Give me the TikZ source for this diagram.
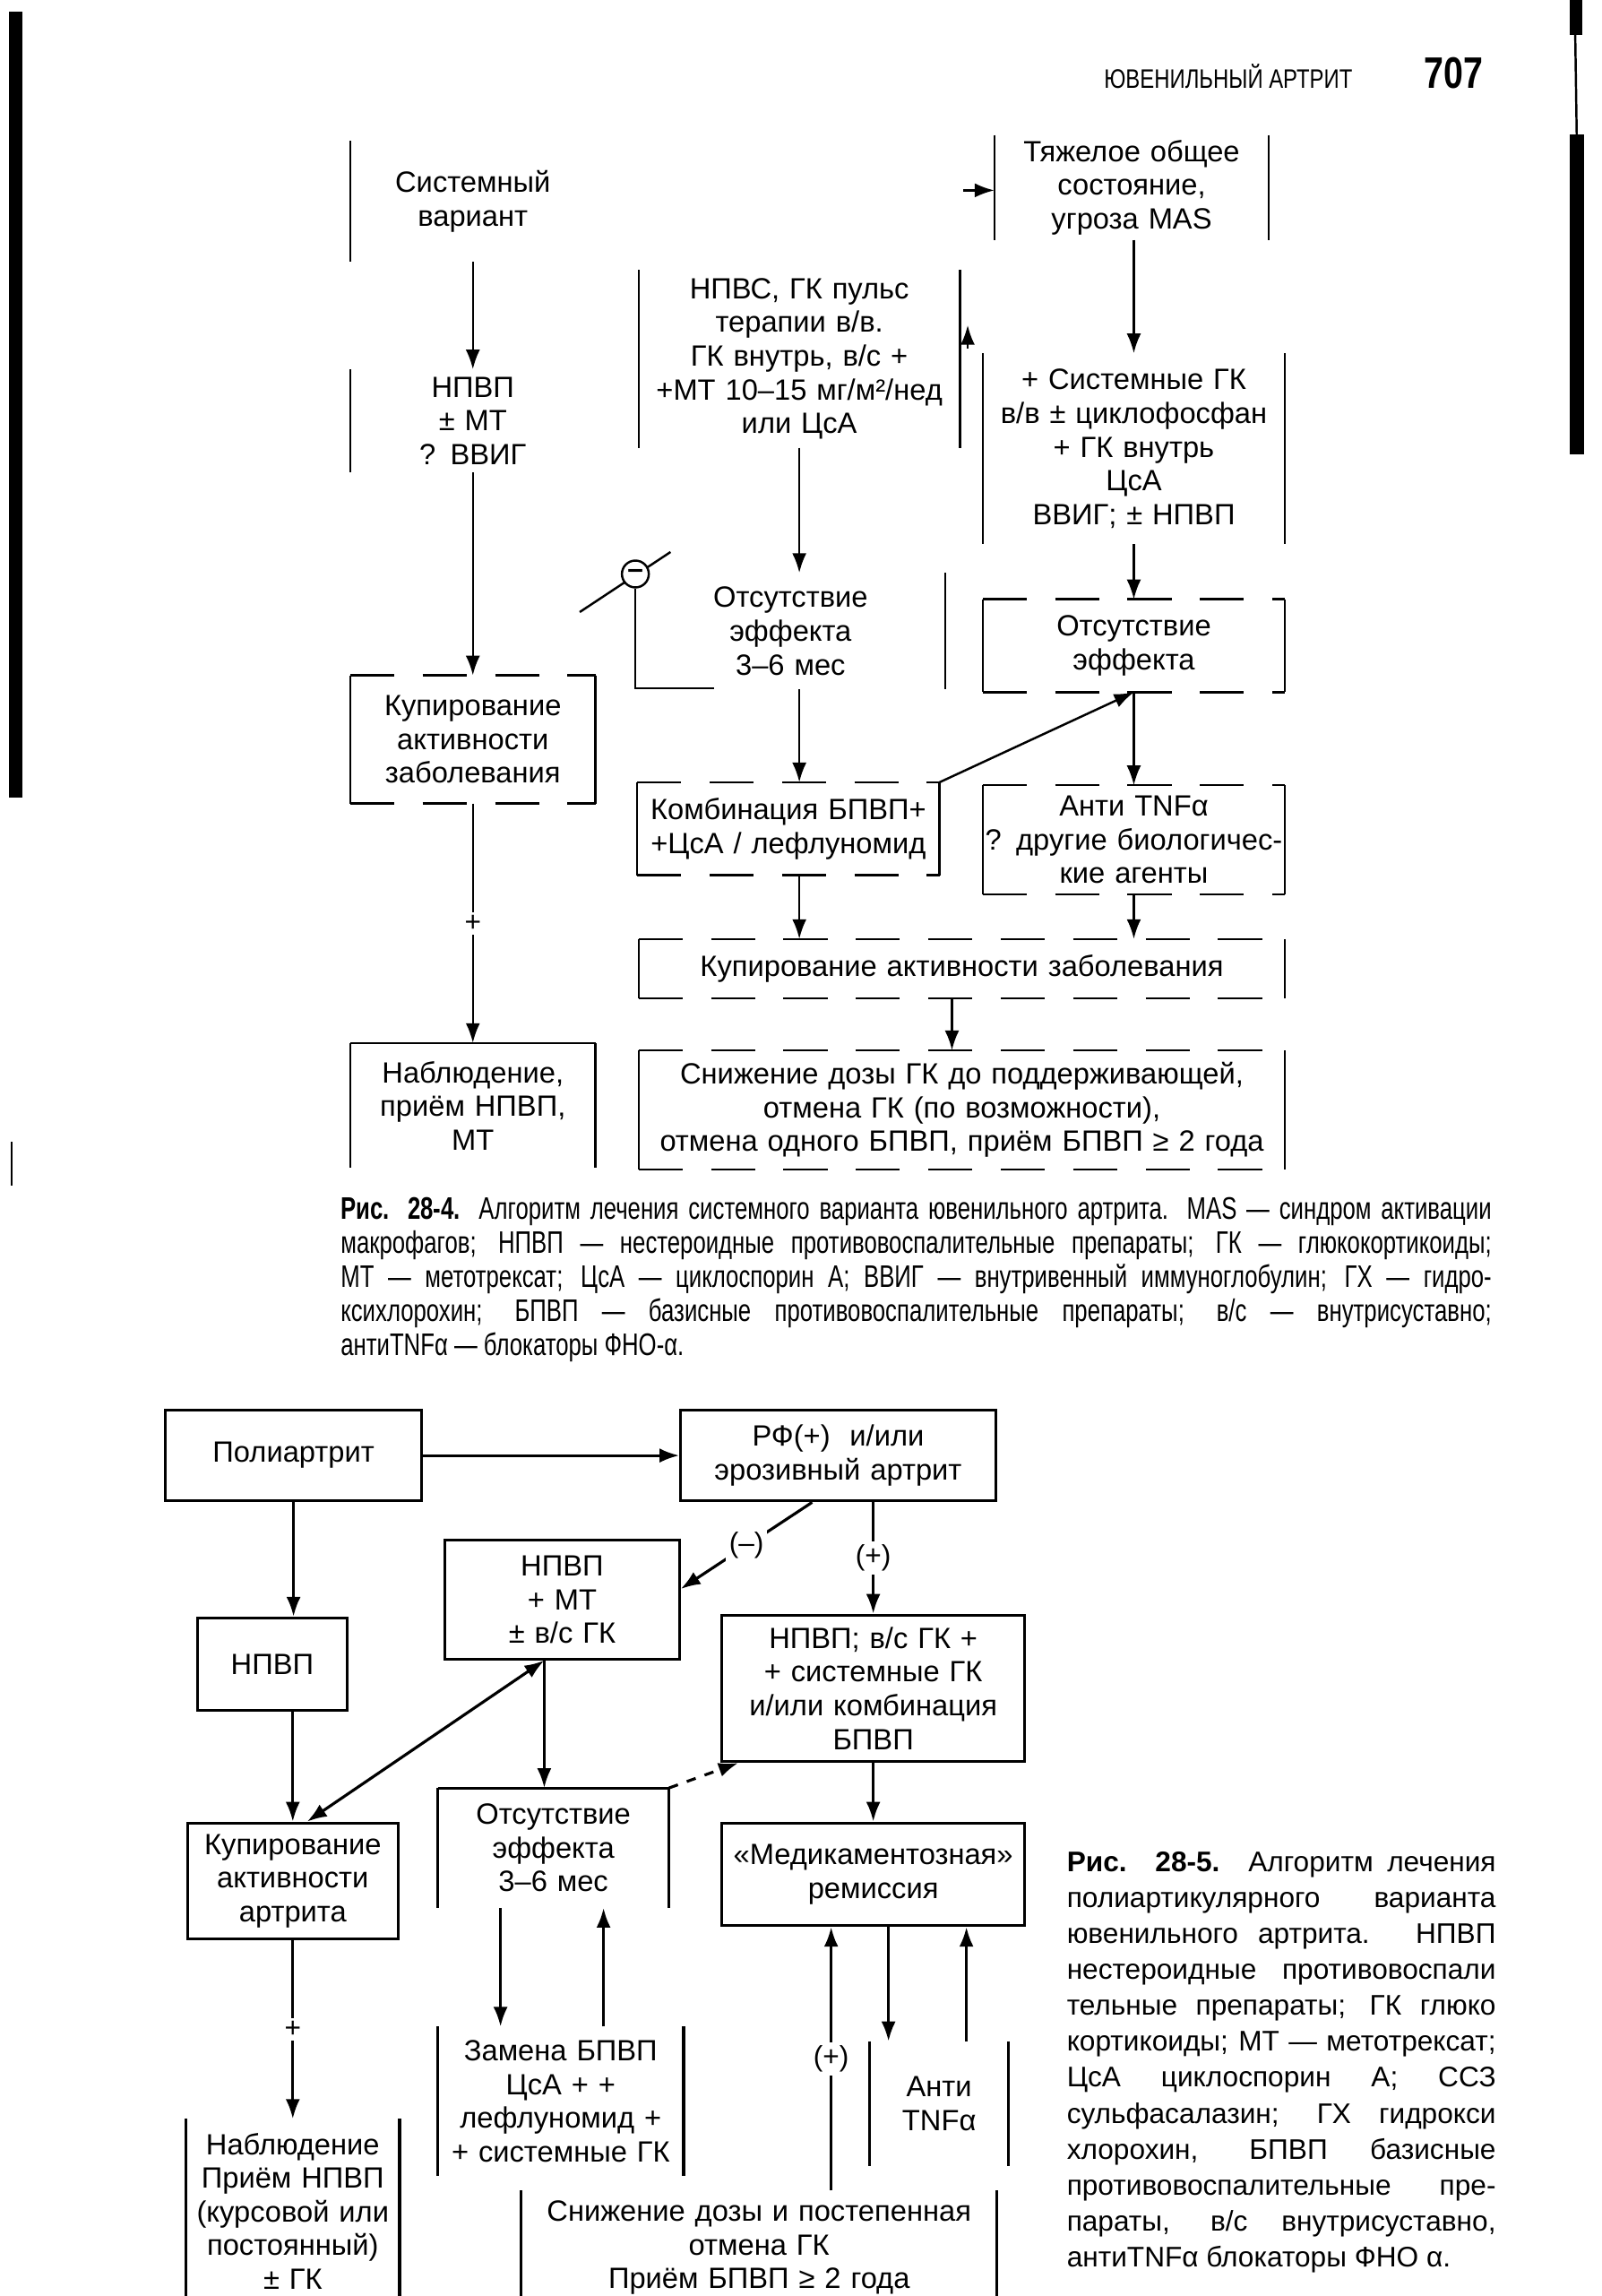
\documentclass[tikz,border=0pt]{standalone}
\usepackage{fontspec}
\setmainfont{Liberation Sans}
\newfontfamily\narrowfont[FakeStretch=0.8]{Liberation Sans}
\newfontfamily\capfont[FakeStretch=0.74]{Liberation Sans}
\usetikzlibrary{arrows.meta}

\begin{document}
\begin{tikzpicture}[x=0.016344cm,y=-0.016344cm,line width=0.7pt,
  every node/.style={font=\fontsize{9.3}{10.7}\selectfont},
  main box/.style={align=center,inner sep=0pt},
  small label/.style={fill=white,inner sep=1pt,font=\fontsize{9}{10}\selectfont},
  broken/.style={dash pattern=on 14pt off 9pt},
  >={Latex[length=2.2mm,width=1.6mm]}]
\fill[white] (0,0) rectangle (1094,1568);
\useasboundingbox (0,0) rectangle (1094,1568);

% edges of the scanned page
\fill (6,8) rectangle (15,545);
\draw (8,780) -- (8,810);
\fill (1072,0) rectangle (1081,24);
\draw (1076,24) -- (1077,92);
\fill (1072,92) rectangle (1082,310);

% running head
\node (runhead) at (839,52) {\narrowfont\fontsize{8.5}{10}\selectfont ЮВЕНИЛЬНЫЙ АРТРИТ};
\node (pagenum) at (993,50) {\narrowfont\bfseries\fontsize{14}{14}\selectfont 707};

% ---------- Fig. 28-4 ----------
\node[main box,text width=2.713cm,minimum height=1.324cm] (sys) at (323,137.5) {Системный\\вариант};
\node[main box,text width=2.713cm,minimum height=1.128cm] (npvp1) at (323,287.5) {НПВП\\± МТ\\? ВВИГ};
\node[main box,text width=2.713cm,minimum height=1.406cm] (kup1) at (323,505) {Купирование\\активности\\заболевания};
\node[main box,text width=2.713cm,minimum height=1.373cm] (nabl1) at (323,755) {Наблюдение,\\приём НПВП,\\МТ};
\node[main box,text width=3.563cm,minimum height=1.961cm] (pulse) at (546,245) {НПВС, ГК пульс\\терапии в/в.\\ГК внутрь, в/с +\\+МТ 10–15 мг/м²/нед\\или ЦсА};
\node[main box,text width=3.432cm,minimum height=1.275cm] (noeff1) at (540,431) {Отсутствие\\эффекта\\3–6 мес};
\node[main box,text width=3.35cm,minimum height=1.013cm] (comb) at (538.5,566) {Комбинация БПВП+\\+ЦсА / лефлуномид};
\node[main box,text width=7.191cm,minimum height=0.637cm] (kup2) at (657,661.5) {Купирование активности заболевания};
\node[main box,text width=7.191cm,minimum height=1.307cm] (dose1) at (657,758) {Снижение дозы ГК до поддерживающей,\\отмена ГК (по возможности),\\отмена одного БПВП, приём БПВП ≥ 2 года};
\node[main box,text width=3.04cm,minimum height=1.144cm] (heavy) at (773,128) {Тяжелое общее\\состояние,\\угроза MAS};
\node[main box,text width=3.35cm,minimum height=2.108cm] (sysgk) at (774.5,306.5) {+ Системные ГК\\в/в ± циклофосфан\\+ ГК внутрь\\ЦсА\\ВВИГ; ± НПВП};
\node[main box,text width=3.35cm,minimum height=1.013cm] (noeff2) at (774.5,441) {Отсутствие\\эффекта};
\node[main box,text width=3.35cm,minimum height=1.193cm] (anti1) at (774.5,573.5) {Анти TNFα\\? другие биологичес-\\кие агенты};

\foreach \n in {sys,npvp1}
  \draw (\n.north west) -- (\n.south west);
\foreach \n in {heavy,pulse,sysgk,noeff2,kup1,comb,anti1,kup2,dose1,nabl1}
  \draw (\n.north west) -- (\n.south west) (\n.north east) -- (\n.south east);
\foreach \n in {noeff2,kup1,comb,anti1,kup2,dose1}
  \draw[broken] (\n.north west) -- (\n.north east) (\n.south west) -- (\n.south east);
\draw (nabl1.north west) -- (nabl1.north east);
\draw (noeff1.north east) -- (noeff1.south east);

% minus mark on the left of noeff1
\coordinate (s1) at (396,418);
\coordinate (s2) at (458,377);
\coordinate (cut) at (488,470);
\draw (s1) -- (s2);
\node[circle,draw,fill=white,inner sep=0pt,minimum size=0.3cm,font=\bfseries\fontsize{9}{9}\selectfont] (minus) at (434,392) {–};
\draw (minus.south) |- (cut);

\draw[->] (sys) -- (npvp1);
\draw[->] (npvp1) -- (kup1);
\draw[->] (kup1) -- node[small label]{+} (nabl1);
\draw[->] (pulse.south) -- (pulse.south |- noeff1.north);
\draw[->] (noeff1.south -| pulse.south) -- (comb.north -| pulse.south);
\draw[->] (comb.south -| pulse.south) -- (kup2.north -| pulse.south);
\draw[->] (sysgk.north |- heavy.south) -- (sysgk.north);
\draw[->] (sysgk) -- (noeff2);
\draw[->] (noeff2) -- (anti1);
\draw[->] (anti1.south) -- (anti1.south |- kup2.north);
\draw[->] (comb.north east) -- (noeff2.south);
\draw[->] ([xshift=-0.11cm]kup2.south) -- ([xshift=-0.11cm]kup2.south |- dose1.north);
\coordinate (hin) at (658,130);
\draw[->] (hin) -- (hin -| heavy.west);
\coordinate (pup) at (661,238);
\draw[->] (pup) -- ++(0,-16);

\node[anchor=north west,inner sep=0pt,text width=12.846cm,align=justify,
  font=\capfont\fontsize{9.9}{10.8}\selectfont] (cap4) at (232,817)
  {\tolerance=10000 \textbf{Рис. 28-4.} Алгоритм лечения системного варианта ювенильного артрита. MAS — синдром активации\linebreak
  макрофагов; НПВП — нестероидные противовоспалительные препараты; ГК — глюкокортикоиды;\linebreak
  МТ — метотрексат; ЦсА — циклоспорин А; ВВИГ — внутривенный иммуноглобулин; ГХ — гидро-\linebreak
  ксихлорохин; БПВП — базисные противовоспалительные препараты; в/с — внутрисуставно;\linebreak
  антиTNFα — блокаторы ФНО-α.};

% ---------- Fig. 28-5 ----------
\begin{scope}[line width=0.9pt]
\node[main box,draw,text width=2.86cm,minimum height=1.013cm] (poly) at (200.5,994) {Полиартрит};
\node[main box,draw,text width=3.514cm,minimum height=1.013cm] (rf) at (572.5,994) {РФ(+)~ и/или\\эрозивный артрит};
\node[main box,draw,text width=1.667cm,minimum height=1.03cm] (npvp2) at (186,1136.5) {НПВП};
\node[main box,draw,text width=2.615cm,minimum height=1.324cm] (npmt) at (384,1092.5) {НПВП\\+ МТ\\± в/с ГК};
\node[main box,draw,text width=3.383cm,minimum height=1.634cm] (npvs) at (596.5,1153) {НПВП; в/с ГК +\\+ системные ГК\\и/или комбинация\\БПВП};
\node[main box,draw,text width=2.353cm,minimum height=1.291cm] (kup3) at (200,1284.5) {Купирование\\активности\\артрита};
\node[main box,text width=2.55cm,minimum height=1.307cm] (noeff3) at (378,1262) {Отсутствие\\эффекта\\3–6 мес};
\node[main box,text width=2.713cm,minimum height=1.634cm] (zam) at (383,1435) {Замена БПВП\\ЦсА + +\\лефлуномид +\\+ системные ГК};
\node[main box,draw,text width=3.383cm,minimum height=1.144cm] (rem) at (596.5,1280) {«Медикаментозная»\\ремиссия};
\node[main box,text width=1.52cm,minimum height=1.357cm] (anti2) at (641.5,1436.5) {Анти\\TNFα};
\node[main box,text width=2.353cm,minimum height=2.027cm] (nabl2) at (200,1510) {Наблюдение\\Приём НПВП\\(курсовой или\\постоянный)\\± ГК};
\node[main box,text width=5.279cm,minimum height=1.242cm] (dose2) at (518.5,1535) {Снижение дозы и постепенная\\отмена ГК\\Приём БПВП ≥ 2 года};

\foreach \n in {noeff3,zam,anti2,nabl2,dose2}
  \draw (\n.north west) -- (\n.south west) (\n.north east) -- (\n.south east);
\draw (noeff3.north west) -- (noeff3.north east);

\draw[->] (poly) -- (rf);
\draw[->] (poly.south) -- (poly.south |- npvp2.north);
\draw[->] (kup3.north |- npvp2.south) -- (kup3.north);
\draw[->] ([xshift=-0.29cm]rf.south) -- node[small label]{(–)} ([yshift=0.12cm]npmt.east);
\draw[->] (npvs.north |- rf.south) -- node[small label]{(+)} (npvs.north);
\draw[<->] ([xshift=-0.2cm]npmt.south) -- ([xshift=0.16cm]kup3.north);
\draw[->] ([xshift=-0.2cm]npmt.south) -- ([xshift=-0.2cm]npmt.south |- noeff3.north);
\draw[->,dashed] (noeff3.north east) -- ([xshift=0.2cm]npvs.south west);
\draw[->] (npvs) -- (rem);
\draw[->] ([xshift=-0.59cm]noeff3.south) -- ([xshift=-0.59cm]noeff3.south |- zam.north);
\draw[->] ([xshift=0.56cm]noeff3.south |- zam.north) -- ([xshift=0.56cm]noeff3.south);
\draw[->] ([xshift=-0.47cm]rem.south |- dose2.north) -- node[small label]{(+)} ([xshift=-0.47cm]rem.south);
\draw[->] ([xshift=0.17cm]rem.south) -- ([xshift=0.17cm]rem.south |- anti2.north);
\draw[->] ([xshift=1.04cm]rem.south |- anti2.north) -- ([xshift=1.04cm]rem.south);
\draw[->] (kup3) -- node[small label]{+} (nabl2);
\end{scope}

\node[anchor=north west,inner sep=0pt,text width=4.789cm,align=justify,
  font=\fontsize{9}{11.4}\selectfont] (cap5) at (728,1264)
  {\tolerance=10000\parfillskip=0pt \textbf{Рис. 28-5.} Алгоритм лечения\linebreak
  полиартикулярного варианта\linebreak
  ювенильного артрита. НПВП\linebreak
  нестероидные противовоспали\linebreak
  тельные препараты; ГК глюко\linebreak
  кортикоиды; МТ — метотрексат;\linebreak
  ЦсА циклоспорин А; ССЗ\linebreak
  сульфасалазин; ГХ гидрокси\linebreak
  хлорохин, БПВП базисные\linebreak
  противовоспалительные пре-\linebreak
  параты, в/с внутрисуставно,\linebreak
  антиTNFα блокаторы ФНО α.};
\end{tikzpicture}
\end{document}
